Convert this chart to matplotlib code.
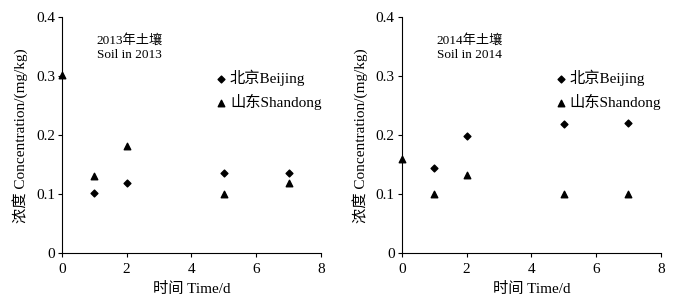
import numpy as np
import matplotlib
matplotlib.use('Agg')
import matplotlib.pyplot as plt
from matplotlib.ticker import FuncFormatter

plt.rcParams['font.family'] = ['Liberation Serif', 'Noto Sans CJK SC']

# 2013 soil
bj_days_2013 = [1, 2, 5, 7]
bj_conc_2013 = [0.103, 0.119, 0.136, 0.136]
sd_days_2013 = [0, 1, 2, 5, 7]
sd_conc_2013 = [0.303, 0.131, 0.182, 0.100, 0.119]

# 2014 soil
bj_days_2014 = [1, 2, 5, 7]
bj_conc_2014 = [0.145, 0.198, 0.220, 0.221]
sd_days_2014 = [0, 1, 2, 5, 7]
sd_conc_2014 = [0.160, 0.100, 0.132, 0.100, 0.100]

panel_titles = ['2013年土壤\nSoil in 2013', '2014年土壤\nSoil in 2014']
labels = ['北京Beijing', '山东Shandong']
xticks = [0, 2, 4, 6, 8]
yticks = [0, 0.1, 0.2, 0.3, 0.4]

fig = plt.figure(figsize=(6.88, 2.99), dpi=100)
ax1 = fig.add_axes([0.090, 0.153, 0.3765, 0.789])
ax2 = fig.add_axes([0.584, 0.153, 0.3765, 0.789])

data = [(bj_days_2013, bj_conc_2013, sd_days_2013, sd_conc_2013),
        (bj_days_2014, bj_conc_2014, sd_days_2014, sd_conc_2014)]

for ax, (bx, by, sx, sy), title in zip([ax1, ax2], data, panel_titles):
    ax.scatter(bx, by, marker='D', s=12, color='black', label=labels[0], clip_on=False, zorder=3)
    ax.scatter(sx, sy, marker='^', s=22, color='black', label=labels[1], clip_on=False, zorder=3)
    ax.set_xlim(0, 8)
    ax.set_ylim(0, 0.4)
    ax.set_xticks(xticks)
    ax.set_yticks(yticks)
    ax.yaxis.set_major_formatter(FuncFormatter(lambda v, p: '0' if v == 0 else '%.1f' % v))
    ax.spines['top'].set_visible(False)
    ax.spines['right'].set_visible(False)
    ax.tick_params(direction='out', length=3, width=0.8, labelsize=11, pad=2)
    ax.tick_params(axis='x', pad=4)
    ax.set_xlabel('时间 Time/d', fontsize=11, labelpad=4)
    ax.set_ylabel('浓度 Concentration/(mg/kg)', fontsize=11, labelpad=6)
    ax.text(1.08, 0.372, title, fontsize=9.5, va='top', ha='left', linespacing=1.3)
    ax.legend(loc='upper left', bbox_to_anchor=(0.56, 0.805), frameon=False,
              fontsize=11, handletextpad=0.1, labelspacing=0.55, borderaxespad=0,
              handlelength=1.0, markerscale=1.0)

fig.savefig('out.png', dpi=100)
